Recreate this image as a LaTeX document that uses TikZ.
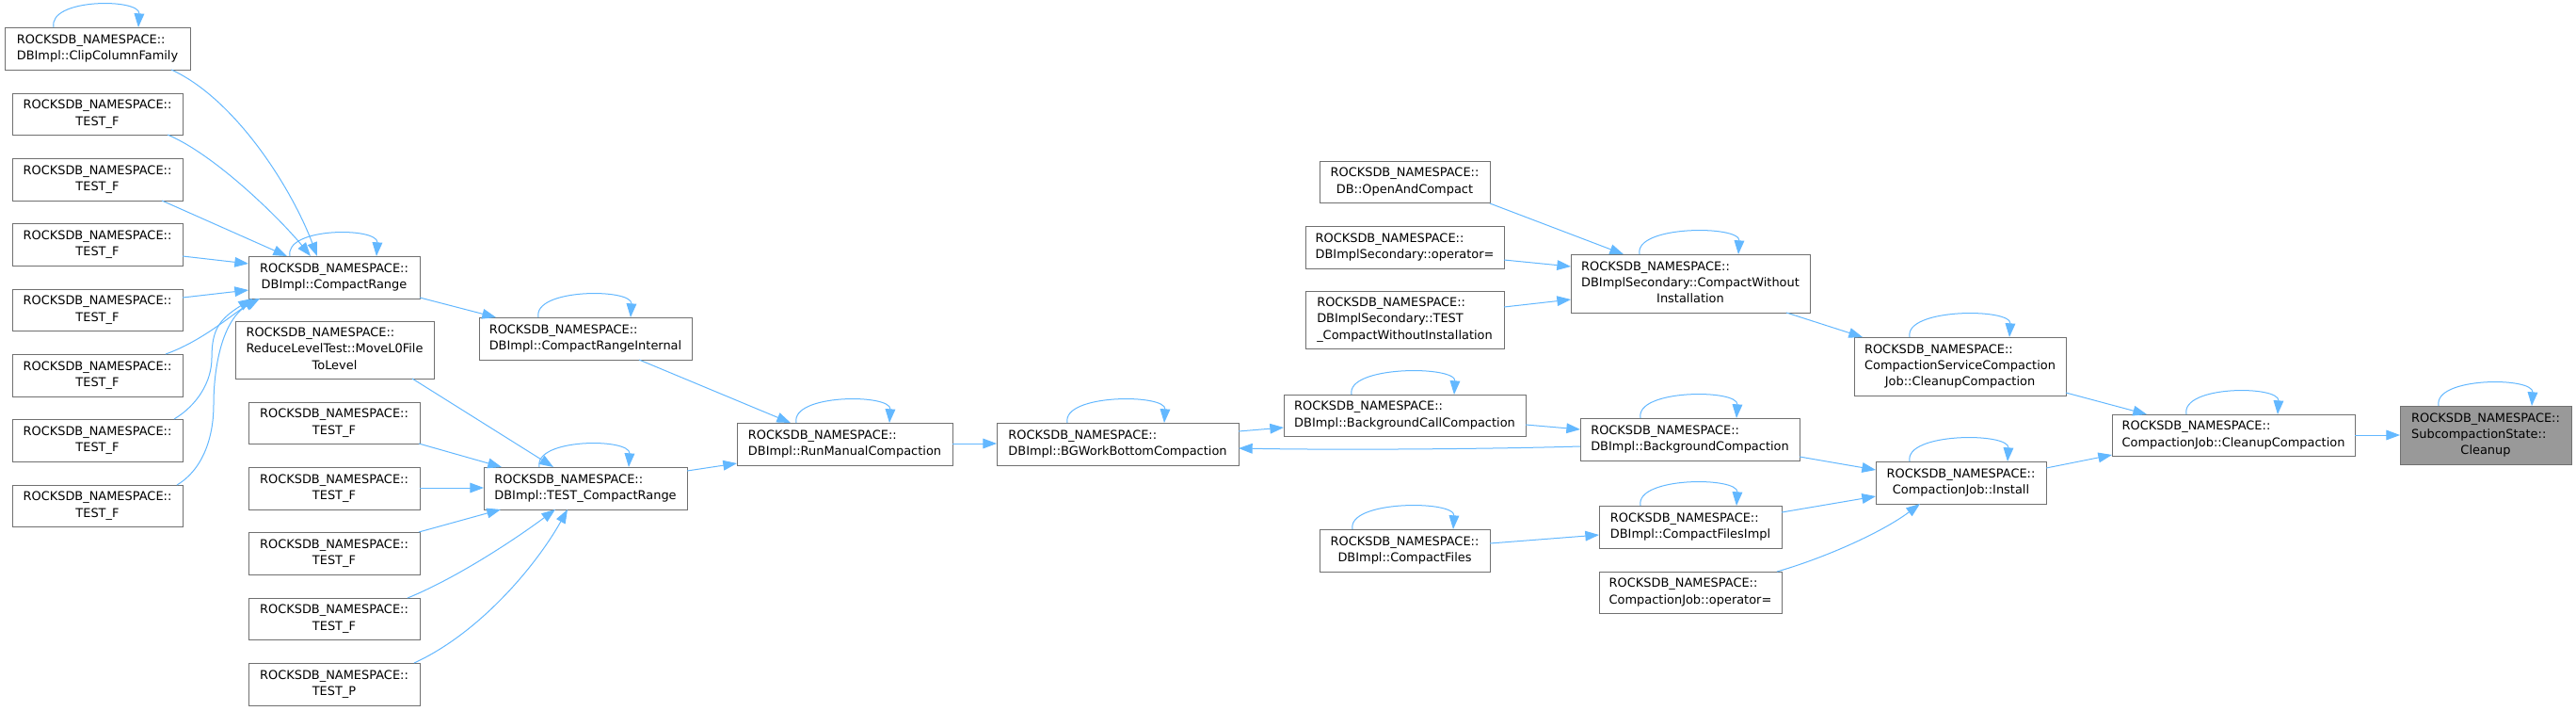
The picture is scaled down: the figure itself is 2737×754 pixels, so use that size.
\documentclass[tikz,border=0pt]{standalone}
\usepackage{fontspec}
\setmainfont{DejaVu Sans}
\usetikzlibrary{arrows.meta}
\definecolor{edgecol}{HTML}{63B8FF}
\definecolor{boxcol}{HTML}{707070}
\definecolor{hlcol}{HTML}{999999}
\newcommand\RN{ROCKSDB\_NAMESPACE::}
\newcommand\lab[2]{\begin{tabular}{@{}l@{}}#1\\\multicolumn{1}{@{}c@{}}{#2}\end{tabular}}
\newcommand\mybox[7][]{\node[box,#1,minimum width={(#5-#3)*0.75pt},minimum height={(#6-#4)*0.75pt}] (#2) at ({(#3+#5)/2},{(#4+#6)/2}) {#7};}
\newcommand\selfloop[3]{\draw[conn] ([shift={(-#2,0)}]#1.north) .. controls +(-6,-31) and +(2,-31) .. ([shift={(#3,0)}]#1.north);}
\tikzset{
  box/.style={draw=boxcol,line width=0.75pt,fill=white,inner sep=0pt,outer sep=0pt,rectangle,
    font=\fontsize{9.7}{13}\selectfont,text=black},
  hl/.style={fill=hlcol},
  conn/.style={draw=edgecol,line width=0.75pt,-{Triangle[length=11pt,width=8pt]}}
}
\begin{document}
\begin{tikzpicture}[x=0.75pt,y=-0.75pt]
\fill[white] (0,0) rectangle (2737,754);
\useasboundingbox (0,0) rectangle (2737,754);
% column 1
\mybox{clip}{5}{29}{202}{74}{\lab{\RN}{DBImpl::ClipColumnFamily}}
\mybox{ta}{13}{99}{194}{143}{\lab{\RN}{TEST\_F}}
\mybox{tb}{13}{168}{194}{213}{\lab{\RN}{TEST\_F}}
\mybox{tc}{13}{237}{194}{282}{\lab{\RN}{TEST\_F}}
\mybox{td}{13}{307}{194}{351}{\lab{\RN}{TEST\_F}}
\mybox{te}{13}{376}{194}{421}{\lab{\RN}{TEST\_F}}
\mybox{tf}{13}{445}{194}{490}{\lab{\RN}{TEST\_F}}
\mybox{tg}{13}{515}{194}{559}{\lab{\RN}{TEST\_F}}
% column 2
\mybox{cr}{264}{272}{446}{317}{\lab{\RN}{DBImpl::CompactRange}}
\mybox{rl}{250}{341}{461}{402}{\lab{\RN\\ReduceLevelTest::MoveL0File}{ToLevel}}
\mybox{ua}{264}{427}{446}{471}{\lab{\RN}{TEST\_F}}
\mybox{ub}{264}{496}{446}{541}{\lab{\RN}{TEST\_F}}
\mybox{uc}{264}{565}{446}{610}{\lab{\RN}{TEST\_F}}
\mybox{ud}{264}{635}{446}{679}{\lab{\RN}{TEST\_F}}
\mybox{up}{264}{704}{446}{749}{\lab{\RN}{TEST\_P}}
% column 3
\mybox{cri}{509}{337}{735}{382}{\lab{\RN}{DBImpl::CompactRangeInternal}}
\mybox{tcr}{514}{496}{730}{541}{\lab{\RN}{DBImpl::TEST\_CompactRange}}
% column 4, 5
\mybox{rmc}{783}{449}{1012}{494}{\lab{\RN}{DBImpl::RunManualCompaction}}
\mybox{bgw}{1059}{449}{1316}{494}{\lab{\RN}{DBImpl::BGWorkBottomCompaction}}
% column 6
\mybox{bcc}{1364}{419}{1621}{463}{\lab{\RN}{DBImpl::BackgroundCallCompaction}}
\mybox{oac}{1402}{171}{1583}{215}{\lab{\RN}{DB::OpenAndCompact}}
\mybox{dso}{1387}{240}{1598}{285}{\lab{\RN}{DBImplSecondary::operator=}}
\mybox{dst}{1387}{309}{1598}{370}{\lab{\RN\\DBImplSecondary::TEST}{\_CompactWithoutInstallation}}
\mybox{cfs}{1402}{562}{1583}{607}{\lab{\RN}{DBImpl::CompactFiles}}
% column 7
\mybox{cwi}{1669}{270}{1923}{332}{\lab{\RN\\DBImplSecondary::CompactWithout}{Installation}}
\mybox{bc}{1679}{444}{1912}{489}{\lab{\RN}{DBImpl::BackgroundCompaction}}
\mybox{cfi}{1699}{537}{1893}{582}{\lab{\RN}{DBImpl::CompactFilesImpl}}
\mybox{cjo}{1699}{607}{1893}{651}{\lab{\RN}{CompactionJob::operator=}}
% column 8
\mybox{csc}{1970}{358}{2195}{420}{\lab{\RN\\CompactionServiceCompaction}{Job::CleanupCompaction}}
\mybox{ins}{1993}{490}{2174}{535}{\lab{\RN}{CompactionJob::Install}}
% column 9, 10
\mybox{cjc}{2244}{440}{2502}{484}{\lab{\RN}{CompactionJob::CleanupCompaction}}
\mybox[hl]{cln}{2550}{431}{2732}{493}{\lab{\RN\\SubcompactionState::}{Cleanup}}
% self loops
\selfloop{clip}{46.5}{43.5}
\selfloop{cr}{47}{45}
\selfloop{cri}{50}{48}
\selfloop{tcr}{49}{46}
\selfloop{rmc}{51.5}{47.5}
\selfloop{bgw}{53.5}{49.5}
\selfloop{bcc}{56.5}{52.5}
\selfloop{bc}{52.5}{49.5}
\selfloop{cfi}{53}{49}
\selfloop{cfs}{55.5}{51.5}
\selfloop{cwi}{54}{51}
\selfloop{csc}{53.5}{52.5}
\selfloop{ins}{54.5}{49.5}
\selfloop{cjc}{50}{47}
\selfloop{cln}{50}{49}
% edges into CompactRange
\draw[conn] ([shift={(177,45)}]clip.north west) .. controls +(68,31) and +(-27,-72) .. ([shift={(73,0)}]cr.north west);
\draw[conn] ([shift={(165,44)}]ta.north west) .. controls +(52,22) and +(-30,-37) .. ([shift={(66,0)}]cr.north west);
\draw[conn] ([shift={(159,45)}]tb.north west) -- ([shift={(41,0)}]cr.north west);
\draw[conn] ([shift={(181,35)}]tc.north west) -- ([shift={(0,8)}]cr.north west);
\draw[conn] ([shift={(181,9)}]td.north west) -- ([shift={(0,36)}]cr.north west);
\draw[conn] ([shift={(163,0)}]te.north west) .. controls +(39,-14) and +(-29,18) .. ([shift={(10,45)}]cr.north west);
\draw[conn] ([shift={(172,0)}]tf.north west) .. controls +(25,-15) and +(0,25) .. ++(40,-65) .. controls +(0,-30) and +(-35,22) .. ([shift={(4,45)}]cr.north west);
\draw[conn] ([shift={(175,0)}]tg.north west) .. controls +(30,-18) and +(0,30) .. ++(39,-85) .. controls +(0,-40) and +(-40,22) .. ([shift={(12,45)}]cr.north west);
% edges into TEST_CompactRange
\draw[conn] ([shift={(188,61)}]rl.north west) -- ([shift={(74,0)}]tcr.north west);
\draw[conn] ([shift={(181,44)}]ua.north west) -- ([shift={(19,0)}]tcr.north west);
\draw[conn] ([shift={(182,22)}]ub.north west) -- ([shift={(0,22)}]tcr.north west);
\draw[conn] ([shift={(181,0)}]uc.north west) -- ([shift={(18,45)}]tcr.north west);
\draw[conn] ([shift={(169,0)}]ud.north west) .. controls +(47,-19) and +(-50,37) .. ([shift={(76,45)}]tcr.north west);
\draw[conn] ([shift={(176,0)}]up.north west) .. controls +(70,-32) and +(-33,59) .. ([shift={(89,45)}]tcr.north west);
% middle chain
\draw[conn] ([shift={(182,44)}]cr.north west) -- ([shift={(18,0)}]cri.north west);
\draw[conn] ([shift={(170,45)}]cri.north west) -- ([shift={(57,0)}]rmc.north west);
\draw[conn] ([shift={(216,4)}]tcr.north west) -- ([shift={(0,43)}]rmc.north west);
\draw[conn] ([shift={(229,22)}]rmc.north west) -- ([shift={(0,22)}]bgw.north west);
\draw[conn] ([shift={(257,9)}]bgw.north west) -- ([shift={(0,35)}]bcc.north west);
\draw[conn] ([shift={(257,32)}]bcc.north west) -- ([shift={(0,12)}]bc.north west);
\draw[conn] ([shift={(0,30)}]bc.north west) .. controls +(-100,3) and +(100,2) .. ([shift={(257,27)}]bgw.north west);
% into CompactWithoutInstallation
\draw[conn] ([shift={(181,45)}]oac.north west) -- ([shift={(56,0)}]cwi.north west);
\draw[conn] ([shift={(211,36)}]dso.north west) -- ([shift={(0,13)}]cwi.north west);
\draw[conn] ([shift={(211,17)}]dst.north west) -- ([shift={(0,48)}]cwi.north west);
\draw[conn] ([shift={(229,62)}]cwi.north west) -- ([shift={(9,0)}]csc.north west);
\draw[conn] ([shift={(225,59)}]csc.north west) -- ([shift={(37,0)}]cjc.north west);
% into Install
\draw[conn] ([shift={(233,41)}]bc.north west) -- ([shift={(0,9)}]ins.north west);
\draw[conn] ([shift={(194,7)}]cfi.north west) -- ([shift={(0,37)}]ins.north west);
\draw[conn] ([shift={(189,0)}]cjo.north west) .. controls +(52,-15) and +(-40,30) .. ([shift={(47,45)}]ins.north west);
\draw[conn] ([shift={(181,15)}]cfs.north west) -- ([shift={(0,31)}]cfi.north west);
\draw[conn] ([shift={(181,7)}]ins.north west) -- ([shift={(0,43)}]cjc.north west);
\draw[conn] ([shift={(258,22)}]cjc.north west) -- ([shift={(0,31)}]cln.north west);
\end{tikzpicture}
\end{document}
